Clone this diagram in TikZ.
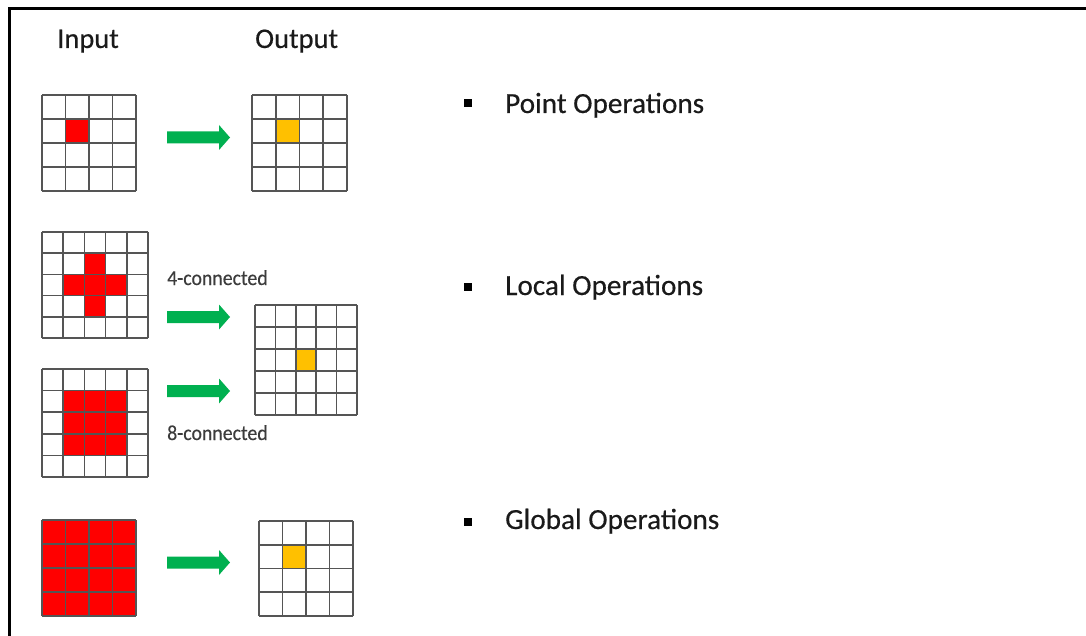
\documentclass[tikz,border=0pt]{standalone}
\usepackage{fontspec}
\setmainfont{Carlito}
\newfontfamily\heavy[FakeBold=0.35]{Carlito}
\usetikzlibrary{calc}
\definecolor{arrowgreen}{HTML}{00B050}
\definecolor{cellred}{HTML}{FF0000}
\definecolor{cellorange}{HTML}{FFC000}
\definecolor{linegray}{HTML}{555555}
\definecolor{txt}{HTML}{1A1A1A}
\tikzset{
  gridline/.style={draw=linegray, line width=1.6pt},
  title/.style={font=\heavy\fontsize{28.5}{32}\selectfont, text=txt, anchor=base west, inner sep=0pt},
  optext/.style={font=\heavy\fontsize{29.2}{32}\selectfont, text=txt, anchor=base west, inner sep=0pt},
  smalllabel/.style={font=\heavy\fontsize{21.3}{24}\selectfont, text=txt!85, anchor=base west, inner sep=0pt},
  bulletsq/.style={fill=black},
  pics/blockarrow/.style={code={
    \fill[arrowgreen] (0,-6) -- (52,-6) -- (52,-12.5) -- (63,0) -- (52,12.5) -- (52,6) -- (0,6) -- cycle;
  }}
}
% #1 name, #2 x0, #3 y0, #4 x1, #5 y1, #6 n
\newcommand\mygrid[6]{%
  \coordinate (#1-nw) at (#2,#3);
  \coordinate (#1-se) at (#4,#5);
  \foreach \i in {0,...,#6}{%
    \pgfmathsetmacro\gx{#2+\i*(#4-#2)/#6}%
    \pgfmathsetmacro\gy{#3+\i*(#5-#3)/#6}%
    \draw[gridline] (\gx,#3) -- (\gx,#5);
    \draw[gridline] (#2,\gy) -- (#4,\gy);
  }%
}
% #1 colour, #2 x0, #3 y0, #4 x1, #5 y1, #6 n, #7 col, #8 row
\newcommand\fillcell[8]{%
  \pgfmathsetmacro\cw{(#4-#2)/#6}%
  \pgfmathsetmacro\ch{(#5-#3)/#6}%
  \fill[#1] ({#2+#7*\cw},{#3+#8*\ch}) rectangle ++(\cw,\ch);
}
\begin{document}
\begin{tikzpicture}[x=1pt,y=-1pt]
\useasboundingbox (0,0) rectangle (1086,636);
\fill[white] (0,0) rectangle (1086,636);
% frame
\draw[line width=2.2pt, black] (9.5,636) -- (9.5,8.5) -- (1086,8.5);

% titles
\node[title] (tin) at (57,48) {Input};
\node[title] (tout) at (255,48) {Output};

% ---- point operations
\fillcell{cellred}{42}{95}{136}{191}{4}{1}{1}
\mygrid{g1}{42}{95}{136}{191}{4}
\pic (a1) at (167,137.5) {blockarrow};
\fillcell{cellorange}{252}{95}{347}{191}{4}{1}{1}
\mygrid{g2}{252}{95}{347}{191}{4}

% ---- local operations: cross
\foreach \c/\r in {2/1,1/2,2/2,3/2,2/3}{
  \fillcell{cellred}{42}{232}{148}{338}{5}{\c}{\r}
}
\mygrid{g3}{42}{232}{148}{338}{5}
\node[smalllabel] (l4) at (167,285) {\scalebox{0.93}[1]{4-connected}};
\pic (a2) at (167,317) {blockarrow};

% local output
\fillcell{cellorange}{255}{305}{357}{415}{5}{2}{2}
\mygrid{g4}{255}{305}{357}{415}{5}

% ---- local operations: square
\foreach \c in {1,2,3}{
  \foreach \r in {1,2,3}{
    \fillcell{cellred}{42}{369}{148}{477}{5}{\c}{\r}
  }
}
\mygrid{g5}{42}{369}{148}{477}{5}
\pic (a3) at (167,391) {blockarrow};
\node[smalllabel] (l8) at (167,440) {\scalebox{0.93}[1]{8-connected}};

% ---- global operations
\fill[cellred] (42,520) rectangle (136,616);
\mygrid{g6}{42}{520}{136}{616}{4}
\pic (a4) at (167,562.5) {blockarrow};
\fillcell{cellorange}{259}{521}{353}{616}{4}{1}{1}
\mygrid{g7}{259}{521}{353}{616}{4}

% ---- bullets and texts
\fill[bulletsq] (463.5,99.5) rectangle ++(8,8);
\node[optext] (p1) at (505,113) {Point Operations};
\fill[bulletsq] (463.5,283) rectangle ++(8,8);
\node[optext] (p2) at (505,295) {Local Operations};
\fill[bulletsq] (463.5,517.5) rectangle ++(8,8);
\node[optext] (p3) at (505,529) {Global Operations};
\end{tikzpicture}
\end{document}
